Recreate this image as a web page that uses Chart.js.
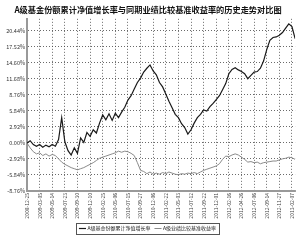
<!DOCTYPE html>
<html>
<head>
<meta charset="utf-8">
<script src="https://cdn.jsdelivr.net/npm/chart.js@4.4.1/dist/chart.umd.min.js"></script>
<style>
  html, body { margin: 0; padding: 0; background: #fff; }
  #wrap { width: 300px; height: 242px; }
</style>
</head>
<body>
<div id="wrap"><canvas id="c" width="300" height="242"></canvas></div>
<script>
// 横轴日期标签
const dateLabels = [
  "2008-12-25", "2009-03-05", "2009-05-14", "2009-07-23", "2009-09-30", "2009-12-10",
  "2010-02-25", "2010-05-06", "2010-07-15", "2010-09-27", "2010-12-06", "2011-02-22",
  "2011-05-03", "2011-07-12", "2011-09-22", "2011-12-01", "2012-02-16", "2012-04-26",
  "2012-07-06", "2012-09-14", "2012-11-27", "2013-02-07"
];

// 纵轴刻度
const yTicks = [-8.76, -5.84, -2.92, 0, 2.92, 5.84, 8.76, 11.68, 14.60, 17.52, 20.44];

// 每个标签间隔取 4 个点
const pointsPerLabel = 4;

// A级基金份额累计净值增长率 (%)
const fundValues = [
  0, 0.4, -0.3, -0.6, -0.3, -0.8, -0.4, -0.7, -0.3, -0.6,
  0.6, 4.6, 0.2, -1.4, -2.2, -0.9, -1.9, 0.9, 0.1, 1.9,
  1.2, 2.4, 1.8, 3.6, 5.1, 4.2, 5.3, 4.1, 5.4, 4.6,
  5.6, 6.5, 7.8, 8.6, 9.8, 11.0, 11.8, 12.9, 13.6, 14.2,
  13.1, 12.4, 11.0, 10.2, 8.9, 7.6, 6.4, 5.2, 4.6, 3.5,
  2.8, 1.6, 2.4, 3.6, 4.6, 5.2, 6.0, 5.8, 6.6, 7.2,
  7.9, 8.6, 9.7, 10.8, 12.6, 13.4, 13.7, 13.3, 13.0, 12.6,
  11.7, 12.3, 12.9, 13.0, 13.6, 14.9, 17.0, 18.7, 19.2, 19.3,
  19.6, 20.1, 20.9, 21.7, 21.2, 19.0
];

// A级业绩比较基准收益率 (%)
const benchValues = [
  0, -0.9, -1.6, -2.0, -1.8, -2.3, -2.0, -2.4, -2.1, -2.3,
  -2.9, -3.5, -3.9, -4.2, -4.5, -4.7, -4.9, -4.7, -4.5, -4.2,
  -3.9, -3.6, -3.2, -2.8, -2.6, -2.4, -2.2, -2.0, -1.8, -1.5,
  -1.7, -1.5, -1.6, -1.9, -2.3, -3.6, -5.0, -5.2, -5.6, -5.3,
  -5.7, -5.5, -5.7, -5.4, -5.6, -5.3, -5.5, -5.7, -5.8, -5.6,
  -5.7, -5.5, -5.6, -5.4, -5.6, -5.3, -5.0, -4.8, -4.6, -4.4,
  -4.2, -3.8, -3.0, -2.4, -2.5, -2.2, -2.0, -2.2, -2.6, -3.0,
  -3.5, -3.4, -3.6, -3.5, -3.8, -3.6, -3.5, -3.4, -3.3, -3.3,
  -3.1, -2.9, -2.8, -2.6, -2.7, -3.0
];

const seriesNames = ["A级基金份额累计净值增长率", "A级业绩比较基准收益率"];

const toPoints = arr => arr.map((v, i) => ({ x: i / pointsPerLabel, y: v }));

const FONT = "'Noto Sans CJK SC', 'Noto Sans', sans-serif";

// 图例外框
const legendBox = {
  id: 'legendBox',
  afterDraw(chart) {
    const boxes = chart.legend.legendHitBoxes;
    if (!boxes || !boxes.length) return;
    const left = Math.min(...boxes.map(b => b.left)) - 4;
    const right = Math.max(...boxes.map(b => b.left + b.width)) + 3;
    const top = boxes[0].top - 3;
    const bottom = boxes[0].top + boxes[0].height + 3;
    const ctx = chart.ctx;
    ctx.save();
    ctx.strokeStyle = '#555';
    ctx.lineWidth = 1;
    ctx.strokeRect(Math.round(left) + 0.5, Math.round(top) + 0.5, Math.round(right - left), Math.round(bottom - top));
    ctx.restore();
  }
};

new Chart(document.getElementById('c'), {
  type: 'line',
  data: {
    datasets: [{
      label: seriesNames[0],
      data: toPoints(fundValues),
      borderColor: '#1a1a1a',
      borderWidth: 1.2,
      pointRadius: 0,
      tension: 0
    }, {
      label: seriesNames[1],
      data: toPoints(benchValues),
      borderColor: '#8a8a8a',
      borderWidth: 1,
      pointRadius: 0,
      tension: 0
    }]
  },
  options: {
    responsive: false,
    animation: false,
    layout: { padding: { left: 0, right: 4, top: 2, bottom: 1 } },
    plugins: {
      title: {
        display: true,
        text: "A级基金份额累计净值增长率与同期业绩比较基准收益率的历史走势对比图",
        color: '#111',
        font: { family: FONT, size: 8.2, weight: 'bold' },
        padding: { top: 3, bottom: 4 }
      },
      legend: {
        position: 'bottom',
        labels: {
          color: '#222',
          font: { family: FONT, size: 5 },
          usePointStyle: true,
          pointStyle: 'line',
          boxWidth: 9,
          padding: 5
        }
      },
      tooltip: { enabled: false }
    },
    scales: {
      x: {
        type: 'linear',
        min: 0,
        max: (fundValues.length - 1) / pointsPerLabel,
        afterBuildTicks: axis => {
          axis.ticks = dateLabels.map((_, i) => ({ value: i }));
        },
        afterFit: axis => { axis.height = 30; },
        ticks: {
          autoSkip: false,
          maxRotation: 90,
          minRotation: 90,
          color: '#444',
          font: { family: FONT, size: 5 },
          padding: 2,
          callback: v => dateLabels[v] || ''
        },
        grid: {
          color: '#444',
          lineWidth: 0.8,
          drawTicks: false
        },
        border: { display: true, color: '#999', width: 2, dash: [1, 2] }
      },
      y: {
        min: -8.76,
        max: 22.6,
        afterBuildTicks: axis => {
          axis.ticks = yTicks.map(v => ({ value: v }));
        },
        afterFit: axis => { axis.width = 27; },
        ticks: {
          color: '#333',
          font: { family: FONT, size: 5.5 },
          padding: 2,
          callback: v => v.toFixed(2) + '%'
        },
        grid: {
          color: '#444',
          lineWidth: 0.8,
          drawTicks: false
        },
        border: { display: true, color: '#999', width: 2, dash: [1, 2] }
      }
    }
  },
  plugins: [legendBox]
});
</script>
</body>
</html>
